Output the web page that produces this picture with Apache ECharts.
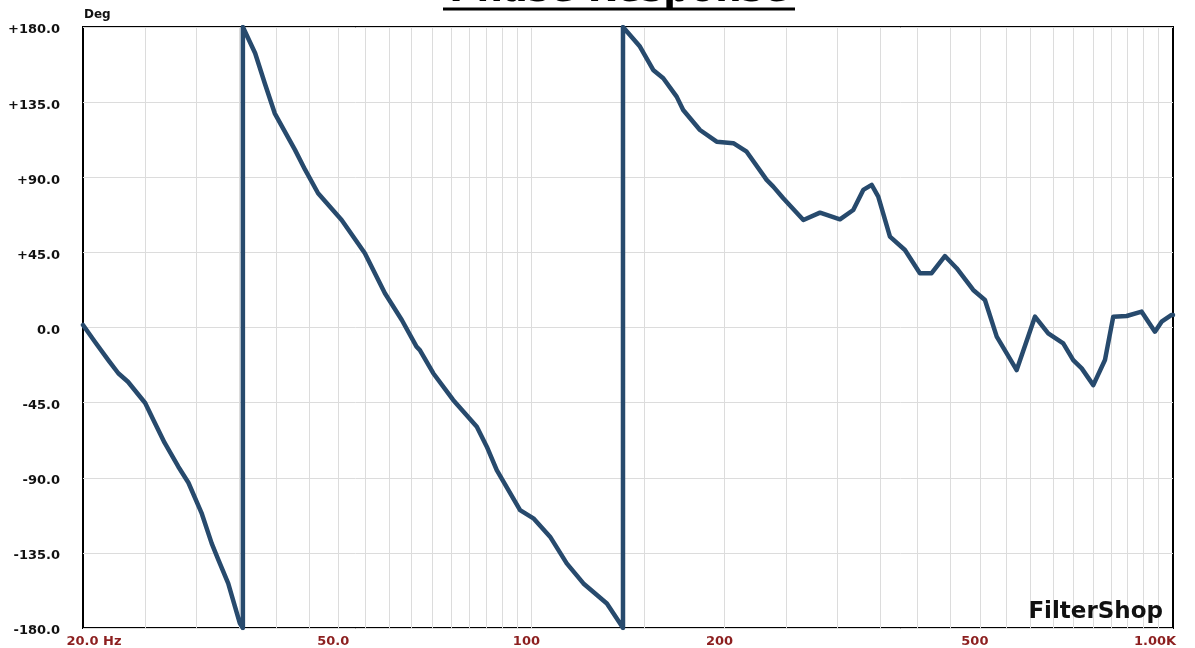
<!DOCTYPE html>
<html>
<head>
<meta charset="utf-8">
<script src="https://cdn.jsdelivr.net/npm/echarts@6/dist/echarts.min.js"></script>
<style>
html,body{margin:0;padding:0;background:#fff;}
#chart{width:1195px;height:648px;}
</style>
</head>
<body>
<div id="chart"></div>
<script>
// Frequencies (Hz) and phase (deg); repeated frequencies are the ±180° wraps
const freqHz = [
  20, 20.87, 21.9, 22.7, 23.5, 25.0, 25.75, 26.8, 28.16, 29.2, 30.6, 31.74, 32.5, 33.68, 35.1, 35.5,
  35.5, 37.1, 38.4, 39.8, 42.8, 44.4, 46.5, 50.6, 55.0, 59.1, 62.8, 66.2, 67.0, 70.3, 75.5, 82.2, 85.2,
  88.3, 96.0, 100.7, 106.9, 113.5, 120.5, 131.1, 137.4, 138.9,
  138.9, 147.6, 154.8, 160.5, 168.4, 172.4, 183.1, 194.4, 206.4, 216.5, 232.6, 238.2, 246.9, 265.4,
  281.7, 302.6, 317.4, 329.0, 339.1, 347.2, 362.1, 382.1, 403.2, 420.5, 441.0, 460.0, 488.2, 509.2,
  531.2, 570.6, 609.3, 639.0, 674.4, 699.0, 720.6, 751.2, 783.3, 807.0, 846.8, 893.6, 937.2, 960.0,
  995, 1000
];
const phaseDeg = [
  1.5, -8.5, -19.5, -27.4, -32.5, -45.2, -55.4, -69, -83.4, -93, -111, -129.3, -139, -153.3, -177, -180,
  180, 164.3, 146.3, 128.3, 106.4, 94.4, 80.4, 64.4, 44.5, 20.5, 4.5, -11.5, -13.5, -27.4, -43.4, -59.4, -71.4,
  -85.4, -109.4, -114.3, -125.3, -141.3, -153.3, -165.3, -177.2, -180,
  180, 168.3, 154.3, 149.3, 138.3, 130.3, 118.3, 111.3, 110.4, 105.3, 88.4, 84.4, 77.4, 64.4,
  68.8, 64.8, 70.4, 82.4, 85.4, 78.4, 54.4, 46.4, 32.5, 32.5, 42.8, 35.5, 22.5, 16.5,
  -5.5, -25.5, 6.5, -3.5, -9.5, -19.5, -24.5, -34.5, -19.5, 6.5, 6.9, 9.5, -2.5, 3.5,
  7.5, 7.5
];
const xTickValues = [20, 50, 100, 200, 500, 1000];
const xTickLabels = ['20.0 Hz', '50.0', '100', '200', '500', '1.00K'];
const gridFreqs = [25, 30, 35, 40, 45, 50, 55, 60, 65, 70, 75, 80, 85, 90, 95, 100,
  150, 200, 250, 300, 350, 400, 450, 500, 550, 600, 650, 700, 750, 800, 850, 900, 950];
const yMin = -180, yMax = 180, yStep = 45;
const titleText = 'Phase Response';
const yUnitText = 'Deg';
const brandText = 'FilterShop';

const chart = echarts.init(document.getElementById('chart'), null, {renderer: 'canvas'});
const FONT = 'DejaVu Sans';
const labelRed = '#8c1f1f';
const lastIdx = xTickValues.length - 1;
const labelBase = {color: labelRed, fontWeight: 'bold', fontSize: 13, fontFamily: FONT};

const option = {
  animation: false,
  backgroundColor: '#fff',
  grid: {left: 83, right: 22, top: 27, bottom: 20, show: true, borderColor: '#000', borderWidth: 2, backgroundColor: '#fff'},
  xAxis: {
    type: 'log', logBase: 10, min: 20, max: 1000,
    axisLine: {show: false}, axisTick: {show: false}, splitLine: {show: false}, minorSplitLine: {show: false},
    axisLabel: {
      customValues: xTickValues,
      margin: 7,
      formatter: function (v) {
        let i = xTickValues.findIndex(t => Math.abs(t - v) < 1e-6 * t);
        if (i < 0) return '';
        const s = xTickLabels[i];
        if (i === 0) return '{first|' + s + '}';
        if (i === lastIdx) return '{last|' + s + '}';
        return '{mid|' + s + '}';
      },
      rich: {
        first: Object.assign({padding: [0, 0, 0, 22]}, labelBase),
        mid: Object.assign({padding: [0, 10, 0, 0]}, labelBase),
        last: Object.assign({padding: [0, 36, 0, 0]}, labelBase)
      }
    }
  },
  yAxis: {
    type: 'value', min: yMin, max: yMax, interval: yStep,
    axisLine: {show: false}, axisTick: {show: false},
    splitLine: {show: true, lineStyle: {color: '#dcdcdc', width: 1}},
    axisLabel: {
      margin: 23,
      formatter: v => '{y|' + (v > 0 ? '+' : '') + v.toFixed(1) + '}',
      rich: {
        y: {color: '#111', fontWeight: 'bold', fontSize: 13, fontFamily: FONT, padding: [6, 0, 0, 0]}
      }
    }
  },
  series: [
    {
      type: 'line', data: [], z: 1, silent: true,
      markLine: {
        silent: true, symbol: ['none', 'none'], animation: false,
        label: {show: false},
        lineStyle: {color: '#dcdcdc', width: 1, type: 'solid'},
        data: gridFreqs.map(f => ({xAxis: f}))
      }
    },
    {
      type: 'line', z: 5,
      data: freqHz.map((f, i) => [f, phaseDeg[i]]),
      showSymbol: false, symbol: 'none',
      lineStyle: {color: '#274a6d', width: 4.5, join: 'round', cap: 'round'},
      clip: true
    }
  ],
  graphic: [
    {type: 'text', left: 84, top: 9, style: {text: yUnitText, fill: '#111', font: 'bold 12px "DejaVu Sans"'}},
    {type: 'text', x: 619, y: -9, style: {text: titleText, fill: '#000', font: 'bold 37px "DejaVu Sans"', align: 'center', verticalAlign: 'middle'}},
    {type: 'line', shape: {x1: 443, y1: 9, x2: 795, y2: 9}, style: {stroke: '#000', lineWidth: 3}},
    {type: 'text', x: 1163, y: 624, z: 10, style: {text: brandText, fill: '#111', font: '900 23px "DejaVu Sans"', align: 'right', verticalAlign: 'bottom'}}
  ]
};
chart.setOption(option);
</script>
</body>
</html>
